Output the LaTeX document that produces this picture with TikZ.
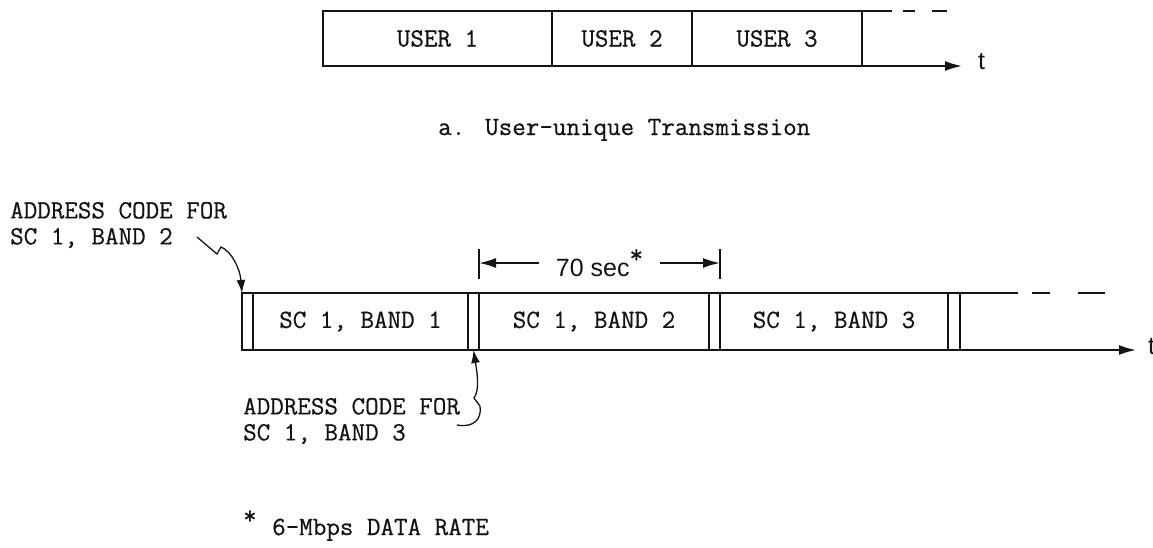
\documentclass[tikz,border=0pt]{standalone}
\usepackage{fontspec}
\setsansfont{Liberation Sans}
\newfontfamily\twfam{Latin Modern Mono}[FakeBold=0.6]
\usetikzlibrary{arrows.meta,positioning,calc}
\definecolor{inkdark}{HTML}{141414}
\newcommand{\twfont}{\fontsize{26.3}{26}\selectfont\twfam}
\newcommand{\sfbig}{\fontsize{25}{28}\selectfont\sffamily}
\tikzset{
  slot/.style={draw=inkdark,line width=1.8pt,inner sep=0pt,outer sep=0pt,font=\twfont,text=inkdark},
  userslot/.style={slot,minimum height=55pt},
  bandslot/.style={slot,minimum height=57pt},
  guard/.style={bandslot,minimum width=11pt},
  lbl/.style={inner sep=0pt,font=\twfont,align=left,text=inkdark},
  tlbl/.style={inner sep=0pt,font=\sfbig,text=inkdark},
  ar/.style={-{Latex[length=17pt,width=10pt]},draw=inkdark,line width=1.8pt},
  sq/.style={-{Latex[length=13pt,width=9pt]},draw=inkdark,line width=1.3pt},
  tick/.style={draw=inkdark,line width=1.4pt},
  tail/.style={draw=inkdark,line width=1.8pt},
}
\begin{document}
\begin{tikzpicture}[x=1pt,y=-1pt]
    \useasboundingbox (0,0) rectangle (1153,547);
    \node[userslot,minimum width=229pt] (u1) at (437.5,38.5) {USER 1};
    \node[userslot,minimum width=140pt,right=0pt of u1] (u2) {USER 2};
    \node[userslot,minimum width=170pt,right=0pt of u2] (u3) {USER 3};
    \coordinate (tA) at (962,66);
    \coordinate (dA) at (947,11);
    \draw[ar] (u3.south east) -- (tA);
    \draw[tail,dash pattern=on 30pt off 11pt on 12pt off 17pt on 15pt] (u3.north east) -- (dA);
    \node[tlbl,anchor=base west] (t1) at ([xshift=16pt,yshift=-3pt]tA) {t};
    \node[lbl,anchor=base west] (capa) at (438,135) {a.};
    \node[lbl,anchor=base west] (capt) at (485,135) {User-unique Transmission};
    \node[guard] (g1) at (247.5,321.5) {};
    \node[bandslot,minimum width=215pt,right=0pt of g1] (b1) {SC 1, BAND 1};
    \node[guard,right=0pt of b1] (g2) {};
    \node[bandslot,minimum width=230pt,right=0pt of g2] (b2) {SC 1, BAND 2};
    \node[guard,right=0pt of b2] (g3) {};
    \node[bandslot,minimum width=228pt,right=0pt of g3] (b3) {SC 1, BAND 3};
    \node[guard,minimum width=12pt,right=0pt of b3] (g4) {};
    \coordinate (tB) at (1136,350);
    \coordinate (dB) at (1105,293);
    \draw[ar] (g4.south east) -- (tB);
    \draw[tail,dash pattern=on 58pt off 14pt on 18pt off 28pt on 27pt] (g4.north east) -- (dB);
    \node[tlbl,anchor=base west] (t2) at ([xshift=12pt,yshift=-4pt]tB) {t};
    \coordinate (dimL) at ([yshift=30pt]b2.north west);
    \coordinate (dimR) at ([yshift=30pt]b3.north west);
    \draw[tick] ([yshift=-16pt]dimL) -- ([yshift=14pt]dimL);
    \draw[tick] ([yshift=-16pt]dimR) -- ([yshift=14pt]dimR);
    \node[tlbl,inner xsep=17pt] (dim) at ($(dimL)!0.5!(dimR)$) {70 sec\raisebox{0.55em}{\twfont*}};
    \draw[ar] (dim.west) -- (dimL);
    \draw[ar] (dim.east) -- (dimR);
    \node[lbl,anchor=west] (addr2) at (10,225) {ADDRESS CODE FOR\\SC 1, BAND 2};
    \coordinate (sqA) at (197,237);
    \draw[sq] (sqA) -- (217,254) -- (221,247) .. controls (231,251) and (240,268) .. (g1.north west);
    \node[lbl,anchor=west] (addr3) at (243,421) {ADDRESS CODE FOR\\SC 1, BAND 3};
    \coordinate (sqB) at (457,425);
    \draw[sq] (sqB) .. controls (474,428) and (482,419) .. (480,406) -- (474,398) .. controls (480,390) and (477,372) .. (g2.south);
    \node[lbl,anchor=base west] (star) at (243,524) {*};
    \node[lbl,anchor=base west] (rate) at (272,535) {6-Mbps DATA RATE};
  \end{tikzpicture}
\end{document}
